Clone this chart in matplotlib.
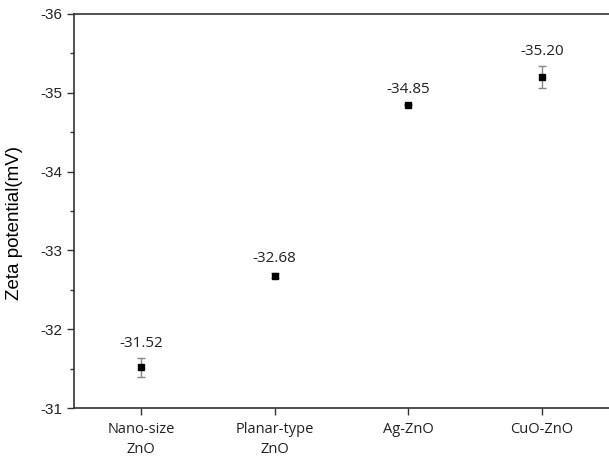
import matplotlib
matplotlib.use("Agg")
import matplotlib.pyplot as plt
from matplotlib.ticker import MultipleLocator

categories = ["Nano-size\nZnO", "Planar-type\nZnO", "Ag-ZnO", "CuO-ZnO"]
zeta = [-31.52, -32.68, -34.85, -35.20]
zeta_err = [0.12, 0.03, 0.01, 0.14]
value_labels = ["-31.52", "-32.68", "-34.85", "-35.20"]

fig = plt.figure(figsize=(6.09, 4.59), dpi=100)
ax = fig.add_axes([0.1215, 0.111, 0.8785, 0.8585])

x = list(range(len(categories)))
ax.errorbar(x, zeta, yerr=zeta_err, fmt="s", color="black", markersize=5,
            ecolor="#888888", elinewidth=1.0, capsize=3, capthick=1.0, zorder=3)

for xi, v, e, lab in zip(x, zeta, zeta_err, value_labels):
    ax.annotate(lab, xy=(xi, v - e), xytext=(0, 5), textcoords="offset points",
                ha="center", va="bottom", fontsize=11, family="Open Sans", color="#222222")

ax.set_xlim(-0.5, 3.5)
ax.set_ylim(-31, -36)
ax.yaxis.set_minor_locator(MultipleLocator(0.5))
ax.set_yticks([-31, -32, -33, -34, -35, -36])
ax.set_yticklabels(["-31", "-32", "-33", "-34", "-35", "-36"], family="Liberation Sans", fontsize=11)
ax.set_xticks(x)
ax.set_xticklabels(categories, family="Open Sans", fontsize=10.5, linespacing=1.45)

ax.spines["right"].set_visible(False)
for s in ["left", "bottom", "top"]:
    ax.spines[s].set_linewidth(1.2)
    ax.spines[s].set_color("#333333")
ax.tick_params(axis="both", which="major", direction="out", length=5, width=1.0, colors="#333333")
ax.tick_params(axis="y", which="minor", direction="out", length=3, width=1.0, colors="#333333")
ax.tick_params(axis="x", which="minor", length=0)
ax.tick_params(axis="x", pad=5)
ax.tick_params(labelcolor="#222222")

ax.set_ylabel("Zeta potential(mV)", family="Liberation Sans", fontsize=13.5)
ax.yaxis.set_label_coords(-0.095, 0.47)

fig.savefig("out.png", dpi=100)
